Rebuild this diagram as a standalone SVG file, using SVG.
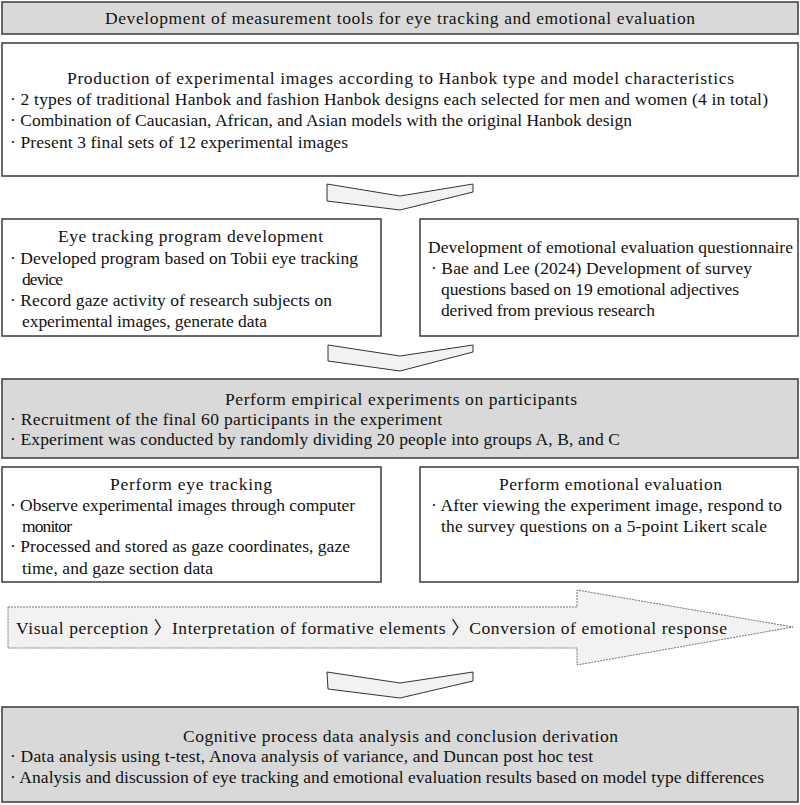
<svg xmlns="http://www.w3.org/2000/svg" width="800" height="805" viewBox="0 0 800 805">
<style>
text{font-family:"Liberation Serif","Noto Sans CJK KR",serif;font-size:17.5px;fill:#111}
.box{fill:#fff;stroke:#3a3a3a;stroke-width:1.5}
.gray{fill:#d9d9d9;stroke:#3a3a3a;stroke-width:1.5}
.chev{fill:#f2f2f2;stroke:#333;stroke-width:1}
.flow{fill:#f2f2f2;stroke:#777;stroke-width:1;stroke-dasharray:2 1}
</style>
<rect width="800" height="805" fill="#fff"/>
<g id="title">
<rect class="gray" x="2" y="2" width="796" height="32"/>
<text x="105" y="24" textLength="590" lengthAdjust="spacing">Development of measurement tools for eye tracking and emotional evaluation</text>
</g>
<g id="production">
<rect class="box" x="2" y="43" width="796" height="133"/>
<text x="67" y="84" textLength="667" lengthAdjust="spacing">Production of experimental images according to Hanbok type and model characteristics</text>
<text x="10" y="105" textLength="758" lengthAdjust="spacing">· 2 types of traditional Hanbok and fashion Hanbok designs each selected for men and women (4 in total)</text>
<text x="10" y="126" textLength="622" lengthAdjust="spacing">· Combination of Caucasian, African, and Asian models with the original Hanbok design</text>
<text x="10" y="148" textLength="338" lengthAdjust="spacing">· Present 3 final sets of 12 experimental images</text>
</g>
<g id="eyetrack-dev">
<rect class="box" x="2" y="219" width="379" height="117"/>
<text x="58" y="242" textLength="265" lengthAdjust="spacing">Eye tracking program development</text>
<text x="10" y="264" textLength="348" lengthAdjust="spacing">· Developed program based on Tobii eye tracking</text>
<text x="22" y="285" textLength="41" lengthAdjust="spacing">device</text>
<text x="10" y="306" textLength="322" lengthAdjust="spacing">· Record gaze activity of research subjects on</text>
<text x="22" y="327" textLength="245" lengthAdjust="spacing">experimental images, generate data</text>
</g>
<g id="questionnaire-dev">
<rect class="box" x="420" y="219" width="378" height="117"/>
<text x="428" y="253" textLength="365" lengthAdjust="spacing">Development of emotional evaluation questionnaire</text>
<text x="431" y="274" textLength="321" lengthAdjust="spacing">· Bae and Lee (2024) Development of survey</text>
<text x="441" y="295" textLength="298" lengthAdjust="spacing">questions based on 19 emotional adjectives</text>
<text x="441" y="316" textLength="214" lengthAdjust="spacing">derived from previous research</text>
</g>
<g id="experiments">
<rect class="gray" x="2" y="379" width="796" height="79"/>
<text x="225" y="405" textLength="352" lengthAdjust="spacing">Perform empirical experiments on participants</text>
<text x="10" y="425" textLength="432" lengthAdjust="spacing">· Recruitment of the final 60 participants in the experiment</text>
<text x="10" y="445" textLength="610" lengthAdjust="spacing">· Experiment was conducted by randomly dividing 20 people into groups A, B, and C</text>
</g>
<g id="eyetracking">
<rect class="box" x="2" y="467" width="379" height="115"/>
<text x="110" y="490" textLength="162" lengthAdjust="spacing">Perform eye tracking</text>
<text x="10" y="511" textLength="345" lengthAdjust="spacing">· Observe experimental images through computer</text>
<text x="22" y="532" textLength="50" lengthAdjust="spacing">monitor</text>
<text x="10" y="552" textLength="340" lengthAdjust="spacing">· Processed and stored as gaze coordinates, gaze</text>
<text x="22" y="574" textLength="191" lengthAdjust="spacing">time, and gaze section data</text>
</g>
<g id="emotional-eval">
<rect class="box" x="420" y="467" width="378" height="115"/>
<text x="499" y="490" textLength="223" lengthAdjust="spacing">Perform emotional evaluation</text>
<text x="431" y="511" textLength="351" lengthAdjust="spacing">· After viewing the experiment image, respond to</text>
<text x="441" y="532" textLength="326" lengthAdjust="spacing">the survey questions on a 5-point Likert scale</text>
</g>
<g id="cognitive-flow">
<polygon class="flow" points="8,607 577,607 577,590 793,627 577,665 577,648 8,648"/>
<text x="16" y="634" textLength="711" lengthAdjust="spacing">Visual perception 〉Interpretation of formative elements 〉Conversion of emotional response</text>
</g>
<g id="analysis">
<rect class="gray" x="2" y="707" width="796" height="95"/>
<text x="183" y="742" textLength="435" lengthAdjust="spacing">Cognitive process data analysis and conclusion derivation</text>
<text x="10" y="762" textLength="583" lengthAdjust="spacing">· Data analysis using t-test, Anova analysis of variance, and Duncan post hoc test</text>
<text x="10" y="783" textLength="754" lengthAdjust="spacing">· Analysis and discussion of eye tracking and emotional evaluation results based on model type differences</text>
</g>
<g id="connectors">
<polygon class="chev" points="327,184 400,196 473,184 473,192 400,210 327,201"/>
<polygon class="chev" points="328,345 400,356 473,345 473,352 400,371 328,361"/>
<polygon class="chev" points="327,672 400,683 473,672 473,681 400,698 328,689"/>
</g>
</svg>
